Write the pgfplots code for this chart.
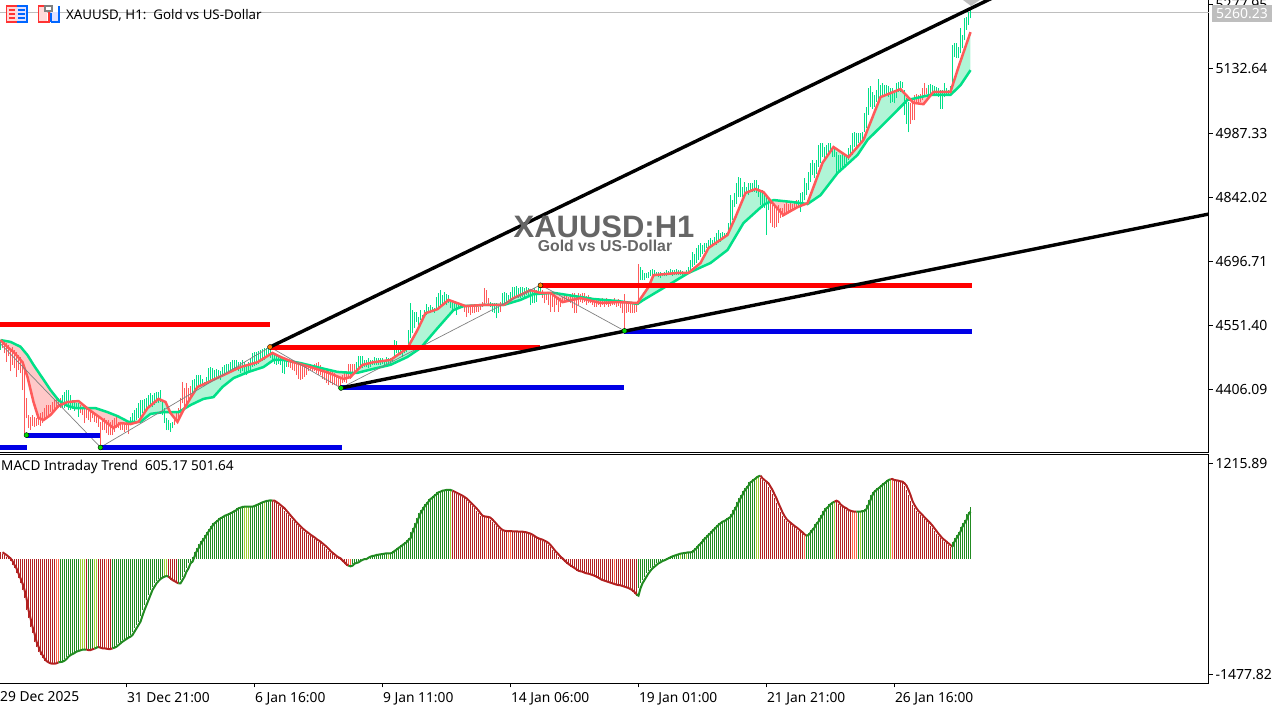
\documentclass[border=0pt]{standalone}
\usepackage{fontspec}
\setmainfont{Noto Sans}
\newfontfamily\arialfont{Liberation Sans}
\usepackage{pgfplots}
\usepackage{pgfplotstable}
\pgfplotsset{compat=1.18}
\usepgfplotslibrary{fillbetween}

\definecolor{bullbar}{RGB}{0,224,136}
\definecolor{bearbar}{RGB}{255,90,90}
\definecolor{bullfill}{RGB}{176,245,214}
\definecolor{bearfill}{RGB}{255,200,200}
\definecolor{lvlblue}{RGB}{0,0,230}
\definecolor{zzgray}{RGB}{128,128,128}
\definecolor{pricegray}{RGB}{190,190,190}
\definecolor{titlegray}{RGB}{102,102,102}
\definecolor{hg}{RGB}{34,139,34}
\definecolor{hr}{RGB}{178,34,34}
\definecolor{hl}{RGB}{154,205,50}
\definecolor{hs}{RGB}{255,99,71}

% price bars, low and high
\pgfplotstableread{
i lo hi
0 4497 4519
31 4365 4395
32 4365 4402
33 4372 4406
34 4361 4405
35 4361 4395
36 4362 4384
37 4359 4380
38 4365 4376
39 4346 4376
65 4331 4346
66 4331 4353
67 4334 4361
68 4338 4365
69 4342 4376
70 4346 4384
71 4353 4384
72 4357 4385
73 4361 4387
74 4365 4395
75 4368 4399
76 4367 4395
77 4372 4400
78 4376 4402
79 4377 4402
80 4380 4405
81 4349 4383
82 4331 4365
83 4315 4342
84 4315 4338
85 4312 4331
86 4319 4334
96 4395 4429
97 4402 4432
98 4406 4440
99 4410 4440
100 4414 4440
101 4417 4432
102 4414 4425
103 4417 4436
104 4421 4455
105 4429 4459
106 4429 4455
107 4432 4451
108 4432 4453
109 4430 4451
110 4429 4450
111 4436 4459
112 4440 4463
113 4440 4466
114 4444 4466
115 4448 4470
116 4448 4475
117 4451 4475
118 4451 4474
119 4448 4470
120 4445 4470
121 4448 4474
122 4444 4470
123 4440 4466
124 4444 4470
125 4451 4478
126 4459 4489
127 4460 4491
128 4463 4493
129 4466 4495
130 4470 4497
131 4472 4498
132 4474 4500
133 4482 4500
134 4485 4503
135 4478 4497
136 4470 4493
137 4466 4489
138 4463 4483
139 4466 4481
140 4463 4478
141 4444 4478
142 4442 4475
143 4459 4470
178 4451 4470
179 4455 4482
180 4459 4482
181 4455 4482
182 4459 4474
183 4459 4474
184 4455 4478
185 4459 4474
186 4463 4474
187 4463 4480
188 4463 4478
189 4463 4478
190 4463 4478
191 4466 4478
192 4463 4474
193 4466 4480
194 4463 4478
195 4465 4478
196 4470 4481
197 4478 4519
198 4489 4518
199 4489 4508
200 4485 4500
201 4481 4497
202 4489 4504
203 4493 4508
204 4508 4542
205 4523 4602
206 4534 4587
207 4546 4583
208 4561 4583
209 4553 4572
210 4565 4587
211 4565 4576
212 4572 4587
213 4576 4600
214 4580 4593
215 4580 4598
216 4583 4595
217 4580 4591
218 4587 4617
219 4591 4625
220 4595 4632
221 4598 4621
222 4598 4629
223 4598 4623
224 4602 4621
225 4591 4610
226 4583 4610
227 4591 4606
228 4576 4606
229 4591 4602
230 4593 4602
231 4591 4598
245 4595 4606
246 4583 4602
247 4580 4602
248 4568 4602
249 4581 4595
251 4596 4625
252 4602 4629
253 4602 4625
254 4606 4621
255 4606 4629
256 4610 4640
257 4611 4640
258 4614 4641
259 4614 4636
260 4614 4640
261 4616 4640
262 4617 4636
263 4621 4640
264 4621 4636
265 4598 4632
266 4602 4632
267 4602 4636
268 4606 4632
269 4625 4640
270 4625 4644
320 4655 4685
321 4655 4677
322 4655 4670
323 4659 4670
324 4659 4674
325 4663 4677
326 4663 4679
327 4663 4677
328 4663 4674
329 4661 4674
330 4659 4674
331 4663 4670
332 4663 4674
333 4663 4677
334 4666 4676
335 4666 4679
336 4664 4677
337 4666 4677
338 4666 4681
339 4666 4677
340 4666 4677
341 4666 4676
342 4666 4674
343 4666 4677
344 4670 4685
345 4674 4700
346 4685 4719
347 4689 4715
348 4693 4727
349 4700 4734
350 4708 4738
351 4715 4734
352 4719 4738
353 4727 4738
354 4727 4745
355 4727 4751
356 4730 4745
357 4734 4753
358 4734 4761
359 4738 4768
360 4742 4761
361 4746 4764
362 4749 4761
363 4753 4761
364 4757 4783
365 4776 4847
366 4791 4836
367 4821 4851
368 4828 4874
369 4843 4889
370 4843 4885
371 4843 4866
372 4847 4877
373 4851 4866
374 4847 4874
375 4855 4874
376 4855 4874
377 4855 4881
378 4851 4881
379 4843 4870
380 4825 4855
381 4817 4859
382 4817 4851
383 4757 4844
384 4813 4840
399 4817 4836
400 4810 4851
401 4828 4855
402 4836 4885
403 4847 4874
404 4859 4900
405 4877 4919
406 4892 4926
407 4885 4919
408 4896 4926
409 4911 4960
410 4919 4964
411 4934 4966
412 4930 4957
413 4938 4960
414 4942 4964
415 4949 4964
416 4934 4957
417 4934 4953
418 4896 4945
419 4900 4938
420 4904 4938
421 4911 4941
422 4915 4938
423 4919 4934
424 4926 4953
425 4934 4960
426 4938 4987
427 4957 4991
428 4957 4987
429 4964 4988
430 4964 4987
431 4964 4991
432 4991 5032
433 4998 5047
434 5028 5089
435 5047 5094
436 5043 5081
437 5047 5074
438 5059 5085
439 5062 5111
440 5070 5096
441 5070 5100
442 5074 5096
443 5077 5096
444 5070 5094
445 5055 5089
446 5058 5089
447 5055 5085
448 5066 5100
449 5081 5104
450 5081 5105
451 5089 5104
452 5028 5085
453 5009 5066
454 4989 5058
464 5070 5096
465 5074 5098
466 5074 5096
467 5076 5094
468 5074 5091
469 5070 5089
470 5043 5085
471 5043 5085
472 5070 5100
473 5074 5089
474 5074 5085
475 5081 5093
476 5093 5187
477 5160 5191
478 5157 5191
479 5157 5183
480 5168 5225
481 5179 5210
482 5198 5247
483 5221 5251
484 5232 5262
485 5247 5266
}\upbars

\pgfplotstableread{
i lo hi
1 4500 4518
2 4489 4519
3 4470 4513
4 4482 4508
5 4448 4500
6 4463 4504
7 4455 4497
8 4436 4493
9 4451 4485
10 4444 4481
11 4406 4470
12 4308 4459
13 4342 4387
14 4319 4349
15 4316 4346
16 4325 4349
17 4322 4346
18 4325 4342
19 4327 4346
20 4325 4353
21 4331 4357
22 4338 4365
23 4342 4372
24 4349 4372
25 4357 4372
26 4353 4380
27 4357 4384
28 4361 4387
29 4365 4387
30 4365 4387
40 4353 4372
41 4349 4365
42 4331 4365
43 4342 4368
44 4338 4361
45 4334 4361
46 4342 4357
47 4334 4353
48 4331 4349
49 4323 4349
50 4276 4334
51 4315 4342
52 4315 4342
53 4308 4338
54 4304 4338
55 4304 4334
56 4304 4338
57 4312 4342
58 4319 4349
59 4319 4334
60 4315 4334
61 4315 4331
62 4312 4331
63 4315 4334
64 4306 4331
87 4327 4346
88 4334 4357
89 4342 4365
90 4353 4387
91 4376 4425
92 4368 4410
93 4376 4421
94 4384 4410
95 4387 4414
144 4459 4474
145 4455 4474
146 4451 4474
147 4448 4470
148 4440 4470
149 4432 4470
150 4429 4466
151 4432 4466
152 4436 4466
153 4440 4466
154 4448 4466
155 4451 4466
156 4448 4463
157 4448 4466
158 4444 4468
159 4440 4470
160 4440 4463
161 4432 4459
162 4429 4455
163 4423 4451
164 4417 4451
165 4421 4448
166 4417 4448
167 4417 4444
168 4417 4440
169 4414 4438
170 4410 4436
171 4421 4440
172 4425 4444
173 4421 4448
174 4436 4466
175 4432 4466
176 4440 4466
177 4444 4466
232 4583 4598
233 4572 4598
234 4580 4598
235 4576 4595
236 4581 4595
237 4580 4596
238 4583 4598
239 4583 4595
240 4587 4598
241 4595 4606
242 4598 4636
243 4602 4632
244 4596 4614
250 4583 4606
271 4614 4632
272 4602 4629
273 4610 4625
274 4598 4629
275 4583 4625
276 4595 4621
277 4583 4625
278 4598 4617
279 4583 4617
280 4595 4614
281 4602 4617
282 4606 4621
283 4610 4621
284 4606 4617
285 4602 4621
286 4591 4625
287 4581 4625
288 4581 4621
289 4598 4625
290 4606 4623
291 4602 4625
292 4606 4625
293 4598 4619
294 4602 4621
295 4602 4617
296 4598 4614
297 4595 4614
298 4595 4614
299 4598 4614
300 4595 4608
301 4598 4614
302 4595 4610
303 4598 4614
304 4595 4610
305 4596 4611
306 4598 4610
307 4598 4614
308 4595 4610
309 4596 4611
310 4591 4610
311 4580 4606
312 4542 4623
313 4580 4602
314 4583 4602
315 4580 4602
316 4580 4602
317 4580 4602
318 4583 4602
319 4598 4691
385 4783 4836
386 4776 4825
387 4772 4821
388 4776 4817
389 4783 4825
390 4795 4817
391 4798 4817
392 4802 4828
393 4806 4836
394 4809 4828
395 4809 4832
396 4813 4828
397 4817 4832
398 4817 4836
455 5009 5055
456 5017 5058
457 5017 5074
458 5055 5077
459 5055 5074
460 5058 5077
461 5062 5089
462 5070 5100
463 5077 5089
}\downbars

% MACD histogram, one value per bar
\pgfplotstableread{
i v
0 88
1 71
2 54
3 32
4 11
5 -23
6 -74
7 -117
8 -181
9 -244
10 -308
11 -393
12 -500
13 -649
14 -755
15 -862
16 -947
17 -1053
18 -1117
19 -1181
20 -1224
21 -1266
22 -1300
23 -1317
24 -1330
25 -1334
26 -1334
27 -1330
28 -1317
29 -1313
30 -1309
31 -1296
32 -1275
33 -1245
34 -1224
35 -1211
36 -1198
37 -1181
38 -1172
39 -1164
40 -1155
41 -1155
42 -1155
43 -1160
44 -1160
45 -1151
46 -1143
47 -1130
48 -1121
49 -1130
50 -1138
51 -1138
52 -1143
53 -1147
54 -1147
55 -1138
56 -1130
57 -1117
58 -1096
59 -1075
60 -1053
61 -1036
62 -1019
63 -1002
64 -990
65 -968
66 -926
67 -883
68 -840
69 -798
70 -721
71 -649
72 -585
73 -521
74 -457
75 -393
76 -351
77 -308
78 -279
79 -253
80 -236
81 -223
82 -215
83 -223
84 -244
85 -266
86 -279
87 -296
88 -308
89 -308
90 -266
91 -223
92 -159
93 -117
94 -53
95 -32
96 32
97 96
98 139
99 190
100 232
101 266
102 309
103 352
104 386
105 428
106 458
107 479
108 500
109 522
110 535
111 552
112 564
113 573
114 586
115 598
116 615
117 628
118 650
119 658
120 667
121 671
122 671
123 671
124 671
125 671
126 679
127 692
128 701
129 713
130 726
131 735
132 743
133 747
134 752
135 747
136 747
137 730
138 713
139 692
140 671
141 650
142 620
143 590
144 560
145 530
146 500
147 471
148 445
149 420
150 394
151 373
152 352
153 334
154 313
155 296
156 279
157 258
158 241
159 224
160 202
161 181
162 160
163 134
164 105
165 83
166 62
167 41
168 24
169 11
170 -15
171 -40
172 -66
173 -83
174 -91
175 -83
176 -57
177 -49
178 -40
179 -23
180 -10
181 2
182 2
183 19
184 32
185 41
186 45
187 54
188 58
189 62
190 66
191 71
192 75
193 75
194 75
195 83
196 105
197 122
198 143
199 160
200 181
201 198
202 215
203 245
204 266
205 343
206 403
207 458
208 522
209 586
210 628
211 671
212 701
213 735
214 769
215 786
216 811
217 828
218 854
219 862
220 875
221 879
222 884
223 884
224 884
225 875
226 862
227 850
228 837
229 824
230 811
231 794
232 777
233 752
234 726
235 701
236 675
237 650
238 620
239 586
240 556
241 547
242 543
243 539
244 530
245 505
246 479
247 449
248 420
249 394
250 373
251 364
252 360
253 360
254 360
255 356
256 356
257 356
258 352
259 352
260 352
261 347
262 343
263 334
264 326
265 313
266 296
267 279
268 266
269 258
270 249
271 237
272 224
273 207
274 181
275 151
276 117
277 88
278 62
279 32
280 11
281 -15
282 -40
283 -61
284 -79
285 -96
286 -113
287 -130
288 -147
289 -155
290 -159
291 -172
292 -181
293 -185
294 -193
295 -202
296 -211
297 -223
298 -236
299 -253
300 -266
301 -274
302 -283
303 -291
304 -300
305 -308
306 -317
307 -325
308 -330
309 -334
310 -342
311 -351
312 -359
313 -368
314 -381
315 -398
316 -419
317 -449
318 -466
319 -372
320 -308
321 -266
322 -223
323 -181
324 -147
325 -117
326 -96
327 -74
328 -53
329 -40
330 -23
331 -15
332 -2
333 11
334 24
335 36
336 45
337 54
338 62
339 71
340 75
341 79
342 83
343 88
344 88
345 92
346 117
347 139
348 173
349 198
350 224
351 258
352 279
353 309
354 330
355 360
356 386
357 411
358 437
359 458
360 479
361 488
362 505
363 522
364 539
365 573
366 628
367 671
368 726
369 777
370 820
371 871
372 905
373 939
374 982
375 999
376 1020
377 1041
378 1058
379 1067
380 1033
381 1011
382 990
383 969
384 926
385 884
386 828
387 777
388 713
389 658
390 598
391 552
392 513
393 488
394 466
395 445
396 424
397 407
398 386
399 364
400 343
401 317
402 300
403 309
404 339
405 373
406 403
407 449
408 479
409 522
410 564
411 615
412 650
413 671
414 701
415 722
416 735
417 747
418 735
419 701
420 679
421 662
422 650
423 628
424 620
425 611
426 607
427 607
428 607
429 607
430 615
431 615
432 641
433 692
434 756
435 820
436 862
437 884
438 905
439 926
440 948
441 969
442 990
443 1011
444 1020
445 1024
446 1011
447 1007
448 1003
449 994
450 990
451 969
452 939
453 884
454 820
455 743
456 692
457 650
458 615
459 590
460 564
461 535
462 509
463 483
464 458
465 428
466 394
467 360
468 326
469 296
470 266
471 245
472 224
473 202
474 181
475 160
476 224
477 266
478 309
479 352
480 415
481 458
482 500
483 573
484 607
485 671
}\macd

\newcommand\fs[1]{\fontsize{#1}{#1}\selectfont}
% one run of histogram bars in one colour
\newcommand\histrun[3]{\addplot[ycomb, #1, line width=1pt, restrict x to domain=#2:#3] table[x=i, y=v] {\macd};}
% one stretch of the signal line, drawn one bar behind the histogram
\newcommand\sigrun[3]{\addplot[#1, line width=2pt, restrict x to domain=#2:#3] table[x expr=\thisrow{i}+1, y=v] {\macd};}
\newcommand\bandfill[3]{\addplot[#1] fill between[of=fast and slow, soft clip={domain=#2:#3}];}

\begin{document}
\begin{tikzpicture}

\begin{axis}[
  at={(0pt,255pt)}, anchor=south west,
  scale only axis, width=1209pt, height=453pt,
  xmin=-0.25, xmax=604.25, ymin=4263.5, ymax=5288.8,
  axis x line=bottom, axis y line=right,
  axis line style={-, line width=1pt},
  xtick=\empty,
  ytick={4406.09,4551.40,4696.71,4842.02,4987.33,5132.64,5277.95},
  yticklabels={4406.09,4551.40,4696.71,4842.02,4987.33,5132.64,5277.95},
  tick align=outside, major tick length=4pt,
  tick style={black, line width=1pt},
  yticklabel style={font=\fs{14}, xshift=-1pt},
  no markers,
]
\addplot[pricegray, line width=1pt] coordinates {(-0.25,5260.23) (604.25,5260.23)};

% slow and fast averages
\addplot[name path=slow, draw=none] coordinates {(0,4519) (5,4515) (10,4504) (13.5,4485) (16.5,4463) (21,4433) (25,4406) (29,4383) (33.5,4370) (37.5,4365) (47.5,4365) (53.5,4356) (58.5,4347) (64,4334) (70,4334) (75,4352) (81.5,4356) (89,4356) (95,4372) (101.5,4386) (106.5,4390) (111,4413) (116.5,4433) (124,4447) (131.5,4458) (136.5,4474) (141.5,4474) (150,4467) (160,4456) (168.5,4447) (175,4445) (178.5,4445) (186.5,4454) (195,4463) (203.5,4481) (210,4501) (218.5,4546) (226.5,4587) (231.5,4596) (241.5,4598.5) (251.5,4598.5) (260,4610) (266.5,4623) (276.5,4626) (286.5,4619) (296.5,4612) (308.5,4607.5) (318.5,4601) (321.5,4610) (331.5,4637) (344,4671) (355,4693.5) (363.5,4723) (371.5,4784) (381.5,4825) (386.5,4836) (395,4832) (403.5,4827) (410,4847) (418.5,4897) (428.5,4938) (433.5,4972) (443.5,5017) (453.5,5062.5) (465,5074) (475,5074) (480,5096) (485,5130)};
\addplot[name path=fast, draw=none] coordinates {(0,4519) (3.5,4503) (6.5,4492) (11,4469) (13.5,4435.5) (16.5,4379) (19,4343) (21.5,4338) (25,4349.5) (29,4370) (33.5,4379) (39,4381) (42.5,4368) (46.5,4354) (50,4343) (56.5,4320) (60,4331) (65,4329) (69,4334) (73.5,4365) (79,4386) (82.5,4379) (85,4354) (88.5,4334) (91.5,4361) (95,4388) (98.5,4413) (104,4424) (111.5,4440) (120,4458) (128.5,4469) (136,4490) (140,4481) (146.5,4469) (155,4458) (164,4445) (171.5,4431) (175,4435.5) (181,4463) (186.5,4469) (195,4474) (203.5,4501) (208.5,4542) (212.5,4580) (218.5,4589) (224,4610) (232.5,4596) (241.5,4598.5) (251.5,4598.5) (256.5,4614) (265,4632) (270,4626) (275,4626) (281,4605) (290,4614) (300,4603) (308.5,4605) (318.5,4603) (324,4639) (326.5,4666) (338.5,4671) (344,4671) (350,4693.5) (354,4727.5) (363.5,4757) (367.5,4797.6) (372.5,4852) (377.5,4861) (381.5,4854) (386,4829) (391.5,4802) (398.5,4820) (403.5,4829) (411,4920) (416.5,4956) (424,4933) (431.5,4972) (440,5069) (450,5087) (456.5,5056) (461.5,5053) (466.5,5081) (475,5081) (479,5137) (485,5216)};

\bandfill{bearfill}{0}{31.5}
\bandfill{bullfill}{31.5}{43.5}
\bandfill{bearfill}{43.5}{69}
\bandfill{bullfill}{69}{84.5}
\bandfill{bearfill}{84.5}{90.5}
\bandfill{bullfill}{90.5}{147}
\bandfill{bearfill}{147}{178}
\bandfill{bullfill}{178}{275}
\bandfill{bearfill}{275}{320}
\bandfill{bullfill}{320}{385}
\bandfill{bearfill}{385}{403}
\bandfill{bullfill}{403}{452}
\bandfill{bearfill}{452}{465}
\bandfill{bullfill}{465}{485}

\addplot[draw=none, error bars/.cd, y dir=plus, y explicit, error mark=none, error bar style={bullbar, line width=1pt}]
  table[x=i, y=lo, y error plus expr=\thisrow{hi}-\thisrow{lo}] {\upbars};
\addplot[draw=none, error bars/.cd, y dir=plus, y explicit, error mark=none, error bar style={bearbar, line width=1pt}]
  table[x=i, y=lo, y error plus expr=\thisrow{hi}-\thisrow{lo}] {\downbars};

\addplot[bullbar, line width=2.5pt] coordinates {(0,4519) (5,4515) (10,4504) (13.5,4485) (16.5,4463) (21,4433) (25,4406) (29,4383) (33.5,4370) (37.5,4365) (47.5,4365) (53.5,4356) (58.5,4347) (64,4334) (70,4334) (75,4352) (81.5,4356) (89,4356) (95,4372) (101.5,4386) (106.5,4390) (111,4413) (116.5,4433) (124,4447) (131.5,4458) (136.5,4474) (141.5,4474) (150,4467) (160,4456) (168.5,4447) (175,4445) (178.5,4445) (186.5,4454) (195,4463) (203.5,4481) (210,4501) (218.5,4546) (226.5,4587) (231.5,4596) (241.5,4598.5) (251.5,4598.5) (260,4610) (266.5,4623) (276.5,4626) (286.5,4619) (296.5,4612) (308.5,4607.5) (318.5,4601) (321.5,4610) (331.5,4637) (344,4671) (355,4693.5) (363.5,4723) (371.5,4784) (381.5,4825) (386.5,4836) (395,4832) (403.5,4827) (410,4847) (418.5,4897) (428.5,4938) (433.5,4972) (443.5,5017) (453.5,5062.5) (465,5074) (475,5074) (480,5096) (485,5130)};
\addplot[bearbar, line width=2.5pt] coordinates {(0,4519) (3.5,4503) (6.5,4492) (11,4469) (13.5,4435.5) (16.5,4379) (19,4343) (21.5,4338) (25,4349.5) (29,4370) (33.5,4379) (39,4381) (42.5,4368) (46.5,4354) (50,4343) (56.5,4320) (60,4331) (65,4329) (69,4334) (73.5,4365) (79,4386) (82.5,4379) (85,4354) (88.5,4334) (91.5,4361) (95,4388) (98.5,4413) (104,4424) (111.5,4440) (120,4458) (128.5,4469) (136,4490) (140,4481) (146.5,4469) (155,4458) (164,4445) (171.5,4431) (175,4435.5) (181,4463) (186.5,4469) (195,4474) (203.5,4501) (208.5,4542) (212.5,4580) (218.5,4589) (224,4610) (232.5,4596) (241.5,4598.5) (251.5,4598.5) (256.5,4614) (265,4632) (270,4626) (275,4626) (281,4605) (290,4614) (300,4603) (308.5,4605) (318.5,4603) (324,4639) (326.5,4666) (338.5,4671) (344,4671) (350,4693.5) (354,4727.5) (363.5,4757) (367.5,4797.6) (372.5,4852) (377.5,4861) (381.5,4854) (386,4829) (391.5,4802) (398.5,4820) (403.5,4829) (411,4920) (416.5,4956) (424,4933) (431.5,4972) (440,5069) (450,5087) (456.5,5056) (461.5,5053) (466.5,5081) (475,5081) (479,5137) (485,5216)};

% zigzag
\addplot[zzgray, line width=0.7pt] coordinates {(-0.25,4512) (50,4276.4) (134.75,4503.4) (170.25,4410.6) (270,4644) (312,4540)};

% support and resistance levels
\addplot[red, line width=5pt] coordinates {(-0.25,4553.2) (135,4553.2)};
\addplot[red, line width=5pt] coordinates {(135,4502.3) (270,4502.3)};
\addplot[red, line width=5pt] coordinates {(269.5,4642.6) (486,4642.6)};
\addplot[lvlblue, line width=5pt] coordinates {(-0.25,4274.8) (13.5,4274.8)};
\addplot[lvlblue, line width=5pt] coordinates {(13,4304.2) (50,4304.2)};
\addplot[lvlblue, line width=5pt] coordinates {(50,4276.4) (171,4276.4)};
\addplot[lvlblue, line width=5pt] coordinates {(170.5,4410.6) (312,4410.6)};
\addplot[lvlblue, line width=5pt] coordinates {(312,4539.6) (486,4539.6)};

% trend lines
\addplot[black, line width=3.4pt] coordinates {(134.75,4503.4) (504,5311)};
\addplot[black, line width=3.4pt] coordinates {(170.25,4410.6) (604.25,4804.4)};

% pivots
\addplot[only marks, mark=square*, mark size=2.5pt, mark options={draw=none, fill=green!85!black}] coordinates {(13,4304) (50,4276) (170.25,4410.6) (312,4540)};
\addplot[only marks, mark=square*, mark size=2.5pt, mark options={draw=none, fill=orange}] coordinates {(134.75,4503.4) (270,4643)};
\end{axis}

\begin{axis}[
  at={(0pt,24.5pt)}, anchor=south west,
  scale only axis, width=1209pt, height=228.5pt,
  xmin=-0.25, xmax=604.25, ymin=-1587.3, ymax=1330.6,
  axis x line=bottom, axis y line=right,
  axis line style={-, line width=1pt},
  xtick={63,127,191,255,319,383,447},
  xticklabels={31 Dec 21:00,6 Jan 16:00,9 Jan 11:00,14 Jan 06:00,19 Jan 01:00,21 Jan 21:00,26 Jan 16:00},
  ytick={-1477.82,1215.89},
  yticklabels={-1477.82,1215.89},
  tick align=outside, major tick length=4pt,
  tick style={black, line width=1pt},
  xticklabel style={font=\fs{13.8}, anchor=north west, xshift=-3pt, yshift=-1pt},
  yticklabel style={font=\fs{14}, xshift=-1pt},
  no markers,
]
\histrun{hr}{-0.5}{27.5}
\histrun{hs}{27.5}{29.5}
\histrun{hg}{29.5}{39.5}
\histrun{hl}{39.5}{42.5}
\histrun{hr}{42.5}{43.5}
\histrun{hg}{43.5}{46.5}
\histrun{hl}{46.5}{48.5}
\histrun{hr}{48.5}{52.5}
\histrun{hs}{52.5}{53.5}
\histrun{hr}{53.5}{55.5}
\histrun{hg}{55.5}{81.5}
\histrun{hl}{81.5}{83.5}
\histrun{hr}{83.5}{88.5}
\histrun{hg}{88.5}{121.5}
\histrun{hl}{121.5}{124.5}
\histrun{hg}{124.5}{131.5}
\histrun{hl}{131.5}{132.5}
\histrun{hg}{132.5}{135.5}
\histrun{hr}{135.5}{173.5}
\histrun{hs}{173.5}{175.5}
\histrun{hg}{175.5}{193.5}
\histrun{hl}{193.5}{194.5}
\histrun{hg}{194.5}{224.5}
\histrun{hl}{224.5}{225.5}
\histrun{hr}{225.5}{242.5}
\histrun{hs}{242.5}{243.5}
\histrun{hr}{243.5}{253.5}
\histrun{hs}{253.5}{255.5}
\histrun{hr}{255.5}{306.5}
\histrun{hs}{306.5}{307.5}
\histrun{hr}{307.5}{318.5}
\histrun{hg}{318.5}{339.5}
\histrun{hl}{339.5}{340.5}
\histrun{hg}{340.5}{342.5}
\histrun{hl}{342.5}{343.5}
\histrun{hg}{343.5}{377.5}
\histrun{hl}{377.5}{379.5}
\histrun{hr}{379.5}{401.5}
\histrun{hs}{401.5}{402.5}
\histrun{hg}{402.5}{416.5}
\histrun{hl}{416.5}{417.5}
\histrun{hr}{417.5}{425.5}
\histrun{hs}{425.5}{428.5}
\histrun{hg}{428.5}{429.5}
\histrun{hl}{429.5}{430.5}
\histrun{hg}{430.5}{444.5}
\histrun{hl}{444.5}{445.5}
\histrun{hs}{445.5}{446.5}
\histrun{hr}{446.5}{475.5}
\histrun{hg}{475.5}{485.5}

\sigrun{hr}{0}{29}
\sigrun{hg}{29}{43}
\sigrun{hr}{43}{47}
\sigrun{hg}{47}{49}
\sigrun{hr}{49}{56}
\sigrun{hg}{56}{84}
\sigrun{hr}{84}{89}
\sigrun{hg}{89}{136}
\sigrun{hr}{136}{174}
\sigrun{hg}{174}{226}
\sigrun{hr}{226}{318}
\sigrun{hg}{318}{380}
\sigrun{hr}{380}{403}
\sigrun{hg}{403}{417}
\sigrun{hr}{417}{428}
\sigrun{hg}{428}{445}
\sigrun{hr}{445}{476}
\sigrun{hg}{476}{485}
\end{axis}

% divider between the panes
\draw[black, line width=1pt] (0pt,253pt) -- (1209pt,253pt);

% chart text
\node[anchor=west, inner sep=0pt, font=\fs{13.3}] at (66pt,693pt) {XAUUSD, H1:\ \ Gold vs US-Dollar};
\node[anchor=west, inner sep=0pt, font=\fs{13.6}] at (1pt,241pt) {MACD Intraday Trend\ \ 605.17 501.64};
\node[anchor=north west, inner sep=0pt, font=\fs{13.8}] at (0pt,17pt) {29 Dec 2025};
\node[inner sep=0pt, text=titlegray, font=\arialfont\bfseries\fs{31}] at (604pt,481pt) {XAUUSD:H1};
\node[inner sep=0pt, text=titlegray, font=\arialfont\bfseries\fs{15.8}] at (605pt,462pt) {Gold vs US-Dollar};

% current price tag
\fill[pricegray] (1212pt,686pt) rectangle (1272pt,703pt);
\node[inner sep=0pt, text=white, font=\fs{14}] at (1242pt,694.5pt) {5260.23};

% chart shift marker
\fill[pricegray] (963pt,708pt) -- (980pt,708pt) -- (971pt,702pt) -- cycle;

% toolbar icons
\begin{scope}[line width=1.2pt]
  \fill[red!15] (6.5pt,686pt) rectangle (16.5pt,702pt);
  \fill[blue!12] (16.5pt,686pt) rectangle (27pt,702pt);
  \draw[red!80] (16.5pt,686pt) -| (6.5pt,702pt) -- (16.5pt,702pt);
  \draw[blue!60!cyan] (16.5pt,686pt) -| (27pt,702pt) -- (16.5pt,702pt);
  \foreach \yy in {690,694,698} {
    \draw[red!80] (9pt,\yy pt) -- (15pt,\yy pt);
    \draw[blue!60!cyan] (18pt,\yy pt) -- (25pt,\yy pt);
  }
  \fill[red!15] (38.5pt,686pt) rectangle (47pt,702pt);
  \draw[red!80] (38.5pt,686pt) rectangle (49pt,702pt);
  \fill[blue!12] (51pt,686pt) rectangle (59pt,696pt);
  \draw[blue!60!cyan] (51pt,686pt) -| (59pt,702pt);
  \draw[blue!60!cyan] (51pt,686pt) -- (51pt,695pt);
  \fill[white] (45pt,696pt) rectangle (53pt,703pt);
  \draw[gray] (45pt,697pt) rectangle (52pt,702pt);
\end{scope}

% page is exactly the reference's frame
\pgfresetboundingbox
\path[use as bounding box] (0pt,0pt) rectangle (1285pt,708pt);
\end{tikzpicture}
\end{document}
